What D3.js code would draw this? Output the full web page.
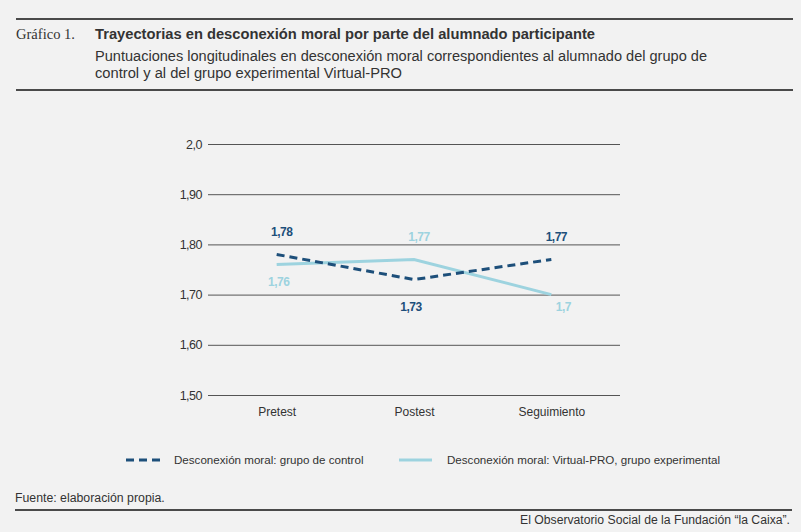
<!DOCTYPE html>
<html>
<head>
<meta charset="utf-8">
<script src="https://cdn.jsdelivr.net/npm/d3@7"></script>
<style>
  body { margin: 0; background: #f2f2f2; }
  svg { display: block; }
</style>
</head>
<body>
<svg width="801" height="532"></svg>
<script>
// categories and series
const categories = ["Pretest", "Postest", "Seguimiento"];
const controlValues = [1.78, 1.73, 1.77];
const experimentalValues = [1.76, 1.77, 1.70];
const controlLabels = ["1,78", "1,73", "1,77"];
const experimentalLabels = ["1,76", "1,77", "1,7"];
const yTicks = [1.5, 1.6, 1.7, 1.8, 1.9, 2.0];
const yTickLabels = ["1,50", "1,60", "1,70", "1,80", "1,90", "2,0"];
const seriesNames = ["Desconexión moral: grupo de control", "Desconexión moral: Virtual-PRO, grupo experimental"];

const darkBlue = "#1d4f7a";
const lightBlue = "#9dd3df";
const sans = "'Liberation Sans', Arial, sans-serif";

const svg = d3.select("svg");
svg.append("rect").attr("width", 801).attr("height", 532).attr("fill", "#f2f2f2");

// header text, fitted to the widths measured on the reference
function headerText(xPos, yPos, str, size, width, opts = {}) {
  return svg.append("text").attr("x", xPos).attr("y", yPos)
    .attr("font-family", opts.family || sans).attr("font-size", size)
    .attr("font-weight", opts.weight || "normal")
    .attr("textLength", width).attr("lengthAdjust", "spacingAndGlyphs")
    .attr("fill", "#333").text(str);
}

svg.append("line").attr("x1", 16).attr("x2", 793).attr("y1", 19).attr("y2", 19)
   .attr("stroke", "#4a4a4a").attr("stroke-width", 2);
headerText(16, 39, "Gráfico 1.", 14.5, 59, {family: "'Liberation Serif', 'DejaVu Serif', serif"});
headerText(95, 39, "Trayectorias en desconexión moral por parte del alumnado participante", 14, 500, {weight: "bold"});
headerText(95, 61, "Puntuaciones longitudinales en desconexión moral correspondientes al alumnado del grupo de", 14, 612);
headerText(95, 78, "control y al del grupo experimental Virtual-PRO", 14, 307);
svg.append("line").attr("x1", 16).attr("x2", 793).attr("y1", 90).attr("y2", 90)
   .attr("stroke", "#4a4a4a").attr("stroke-width", 2);

// scales
const x = d3.scalePoint().domain(categories).range([208, 620]).padding(0.5);
const y = d3.scaleLinear().domain([1.5, 2.0]).range([395, 144]);

// gridlines + y labels
const yAxis = d3.axisLeft(y).tickValues(yTicks)
  .tickFormat((d, i) => yTickLabels[i]).tickSize(-(620 - 208)).tickPadding(6);
const gy = svg.append("g").attr("transform", "translate(208,0)").call(yAxis);
gy.select(".domain").remove();
gy.selectAll(".tick line").attr("stroke", "#555").attr("stroke-width", 1);
gy.selectAll(".tick text").attr("font-family", sans).attr("font-size", 12.5)
  .attr("fill", "#333").attr("letter-spacing", "-0.5px");

// x labels
const xAxis = d3.axisBottom(x).tickSize(0).tickPadding(12);
const gx = svg.append("g").attr("transform", "translate(0,395)").call(xAxis);
gx.select(".domain").remove();
gx.selectAll(".tick text").attr("font-family", sans).attr("font-size", 12).attr("fill", "#333");

// lines
const line = d3.line().x((d, i) => x(categories[i])).y(d => y(d));
svg.append("path").datum(experimentalValues).attr("d", line)
   .attr("fill", "none").attr("stroke", lightBlue).attr("stroke-width", 3);
svg.append("path").datum(controlValues).attr("d", line)
   .attr("fill", "none").attr("stroke", darkBlue).attr("stroke-width", 3)
   .attr("stroke-dasharray", "8,5");

// value labels (offsets relative to each point)
const controlOffsets = [[5, -18], [-3, 31], [5, -18]];
const experimentalOffsets = [[2, 22], [5, -18], [12, 16]];
function addLabels(values, labels, offsets, color) {
  svg.append("g").selectAll("text").data(values).join("text")
    .attr("x", (d, i) => x(categories[i]) + offsets[i][0])
    .attr("y", (d, i) => y(d) + offsets[i][1])
    .attr("text-anchor", "middle")
    .attr("font-family", sans).attr("font-size", 12).attr("font-weight", "bold")
    .attr("letter-spacing", "-0.5px")
    .attr("fill", color).text((d, i) => labels[i]);
}
addLabels(controlValues, controlLabels, controlOffsets, darkBlue);
addLabels(experimentalValues, experimentalLabels, experimentalOffsets, lightBlue);

// legend
const legend = svg.append("g").attr("font-family", sans).attr("font-size", 11.6).attr("fill", "#333");
legend.append("line").attr("x1", 126).attr("x2", 160).attr("y1", 460).attr("y2", 460)
  .attr("stroke", darkBlue).attr("stroke-width", 3).attr("stroke-dasharray", "8,5");
legend.append("text").attr("x", 174).attr("y", 464).text(seriesNames[0]);
legend.append("line").attr("x1", 399).attr("x2", 432).attr("y1", 460).attr("y2", 460)
  .attr("stroke", lightBlue).attr("stroke-width", 3);
legend.append("text").attr("x", 447).attr("y", 464).text(seriesNames[1]);

// footer
svg.append("text").attr("x", 15).attr("y", 502)
   .attr("font-family", sans).attr("font-size", 12.3).attr("fill", "#333")
   .text("Fuente: elaboración propia.");
svg.append("line").attr("x1", 15).attr("x2", 792).attr("y1", 510).attr("y2", 510)
   .attr("stroke", "#4a4a4a").attr("stroke-width", 2);
svg.append("text").attr("x", 520).attr("y", 524)
   .attr("font-family", sans).attr("font-size", 12.5).attr("fill", "#333")
   .attr("textLength", 270).attr("lengthAdjust", "spacingAndGlyphs")
   .text("El Observatorio Social de la Fundación “la Caixa”.");
</script>
</body>
</html>
